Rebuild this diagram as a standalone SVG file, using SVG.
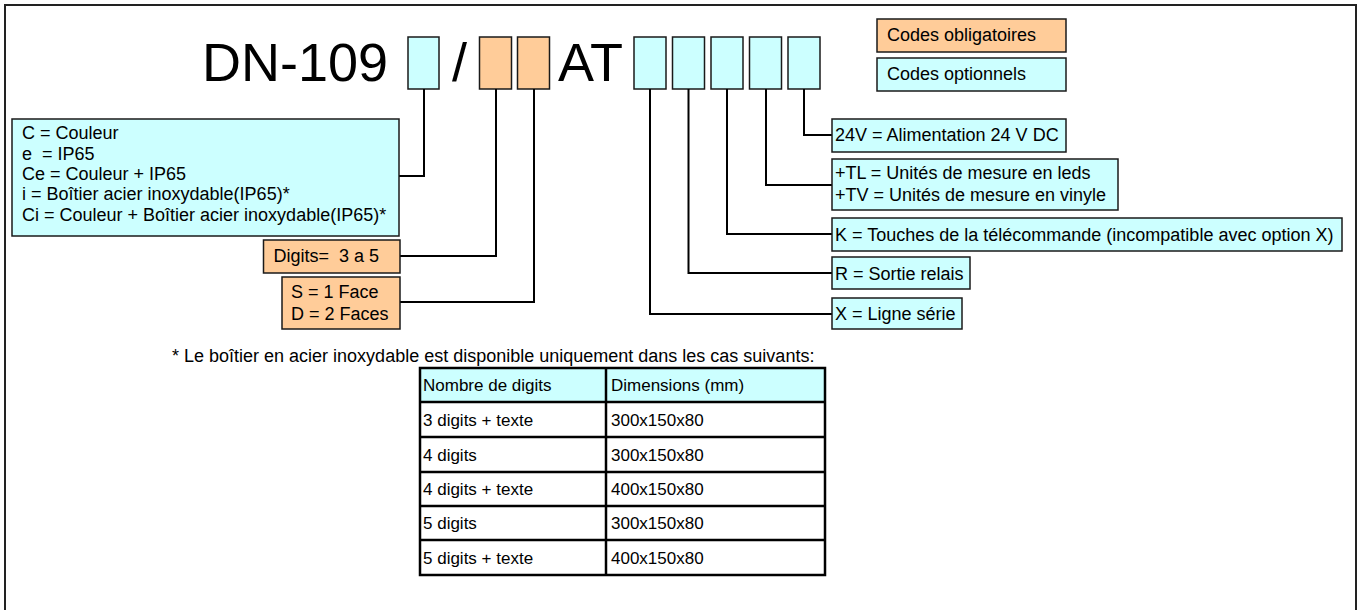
<svg xmlns="http://www.w3.org/2000/svg" width="1361" height="610" viewBox="0 0 1361 610">
<style>
text{font-family:"Liberation Sans",Arial,sans-serif;fill:#000;white-space:pre}
.t{font-size:18px}
.big{font-size:54px}
.tb{font-size:17px}
.b{fill:#CCFFFF;stroke:#1a1a1a;stroke-width:1.5}
.o{fill:#FFCC99;stroke:#1a1a1a;stroke-width:1.5}
.c{fill:none;stroke:#000;stroke-width:2}
.tl{stroke:#000;stroke-width:2.5;fill:none}
</style>
<rect x="5" y="5" width="1351" height="620" fill="#fff" stroke="#222" stroke-width="2"/>

<g id="title">
<text class="big" x="202" y="81">DN-109</text>
<text class="big" x="452" y="81">/</text>
<text class="big" x="558" y="81">AT</text>
</g>

<g id="code-boxes">
<rect id="box-variant" class="b" x="408" y="37" width="31" height="52"/>
<rect id="box-digits" class="o" x="479.5" y="37" width="32" height="52"/>
<rect id="box-faces" class="o" x="517.5" y="37" width="32" height="52"/>
<rect id="box-x" class="b" x="634" y="37" width="32" height="52"/>
<rect id="box-r" class="b" x="672.5" y="37" width="32" height="52"/>
<rect id="box-k" class="b" x="711" y="37" width="32" height="52"/>
<rect id="box-t" class="b" x="749.5" y="37" width="32" height="52"/>
<rect id="box-24v" class="b" x="788" y="37" width="32" height="52"/>
</g>

<g id="legend-obligatoires">
<rect class="o" x="877" y="19" width="189" height="33"/>
<text class="t" x="887" y="41">Codes obligatoires</text>
</g>
<g id="legend-optionnels">
<rect class="b" x="877" y="58" width="189" height="33"/>
<text class="t" x="887" y="80">Codes optionnels</text>
</g>

<g id="connectors">
<polyline class="c" points="424,89 424,176 399,176"/>
<polyline class="c" points="496,89 496,256 400,256"/>
<polyline class="c" points="534,89 534,302 400,302"/>
<polyline class="c" points="650,89 650,314 832,314"/>
<polyline class="c" points="688.5,89 688.5,273 832,273"/>
<polyline class="c" points="727,89 727,234 832,234"/>
<polyline class="c" points="766,89 766,185 832,185"/>
<polyline class="c" points="804,89 804,135 832,135"/>
</g>

<g id="node-variant">
<rect class="b" x="12" y="119" width="387" height="117"/>
<text class="t" x="22" y="139">C = Couleur</text>
<text class="t" x="22" y="159.5">e  = IP65</text>
<text class="t" x="22" y="180">Ce = Couleur + IP65</text>
<text class="t" x="22" y="200">i = Boîtier acier inoxydable(IP65)*</text>
<text class="t" x="22" y="220.5">Ci = Couleur + Boîtier acier inoxydable(IP65)*</text>
</g>

<g id="node-digits">
<rect class="o" x="263.5" y="240" width="136.5" height="33"/>
<text class="t" x="273.5" y="262">Digits=  3 a 5</text>
</g>

<g id="node-faces">
<rect class="o" x="282" y="277" width="118" height="52"/>
<text class="t" x="291" y="298">S = 1 Face</text>
<text class="t" x="291" y="320">D = 2 Faces</text>
</g>

<g id="node-24v">
<rect class="b" x="832" y="119" width="234" height="33"/>
<text class="t" x="835" y="141">24V = Alimentation 24 V DC</text>
</g>

<g id="node-t">
<rect class="b" x="832" y="159" width="286" height="51"/>
<text class="t" x="835" y="179">+TL = Unités de mesure en leds</text>
<text class="t" x="835" y="201">+TV = Unités de mesure en vinyle</text>
</g>

<g id="node-k">
<rect class="b" x="832" y="218" width="510" height="33"/>
<text class="t" x="835" y="241">K = Touches de la télécommande (incompatible avec option X)</text>
</g>

<g id="node-r">
<rect class="b" x="832" y="257" width="138" height="32"/>
<text class="t" x="835" y="279.5">R = Sortie relais</text>
</g>

<g id="node-x">
<rect class="b" x="832" y="298" width="130" height="31"/>
<text class="t" x="835" y="320">X = Ligne série</text>
</g>

<g id="footnote">
<text class="t" x="172" y="362">* Le boîtier en acier inoxydable est disponible uniquement dans les cas suivants:</text>
</g>

<g id="table">
<rect x="420" y="368" width="405" height="34" fill="#CCFFFF"/>
<rect class="tl" x="420" y="368" width="405" height="207"/>
<line class="tl" x1="606" y1="368" x2="606" y2="575"/>
<line class="tl" x1="420" y1="402" x2="825" y2="402"/>
<line class="tl" x1="420" y1="437" x2="825" y2="437"/>
<line class="tl" x1="420" y1="472" x2="825" y2="472"/>
<line class="tl" x1="420" y1="506" x2="825" y2="506"/>
<line class="tl" x1="420" y1="540" x2="825" y2="540"/>
<text class="tb" x="423" y="391">Nombre de digits</text>
<text class="tb" x="611" y="391">Dimensions (mm)</text>
<text class="tb" x="423" y="426">3 digits + texte</text>
<text class="tb" x="611" y="426">300x150x80</text>
<text class="tb" x="423" y="461">4 digits</text>
<text class="tb" x="611" y="461">300x150x80</text>
<text class="tb" x="423" y="495">4 digits + texte</text>
<text class="tb" x="611" y="495">400x150x80</text>
<text class="tb" x="423" y="529">5 digits</text>
<text class="tb" x="611" y="529">300x150x80</text>
<text class="tb" x="423" y="564">5 digits + texte</text>
<text class="tb" x="611" y="564">400x150x80</text>
</g>
</svg>
